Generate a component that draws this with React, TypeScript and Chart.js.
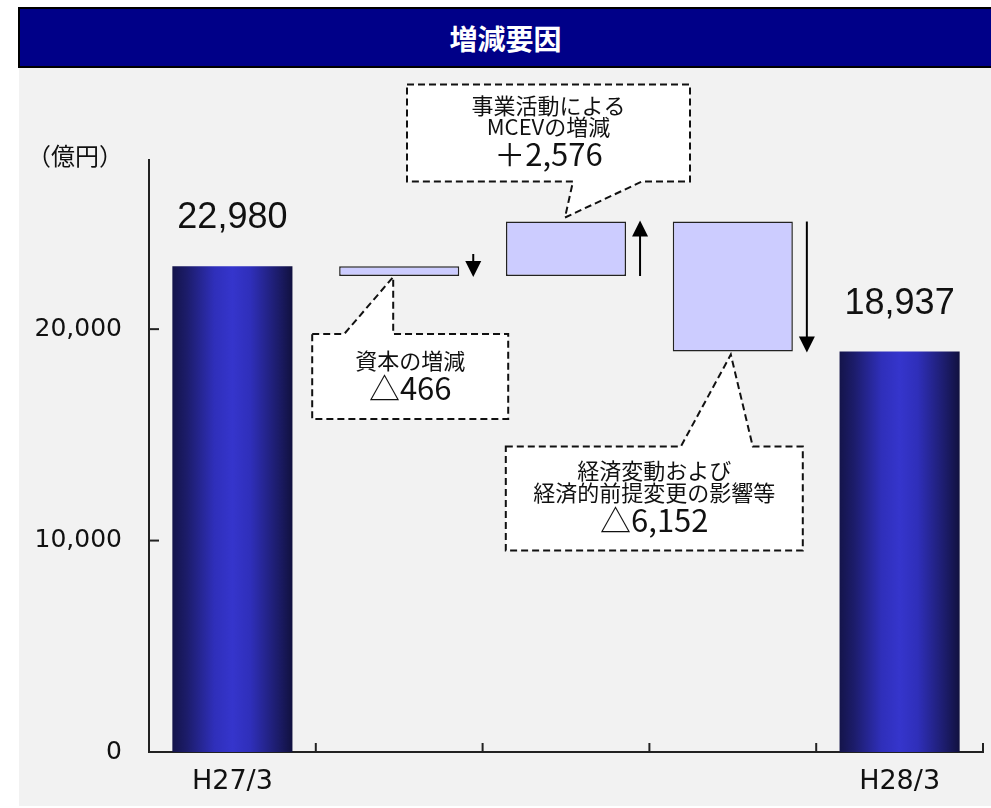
import { useEffect, useRef } from 'react';
import { Chart, registerables } from 'chart.js';

Chart.register(...registerables);

// ---- data ----
const titleText = '増減要因';
const unitLabel = '（億円）';
const categories = ['H27/3', '', '', '', 'H28/3'];
const startValue = 22980;
const endValue = 18937;
const changeValues = [-466, 2576, -6152];
const changeLabels = [
  ['資本の増減'],
  ['事業活動による', 'MCEVの増減'],
  ['経済変動および', '経済的前提変更の影響等'],
];
const yTickValues = [0, 10000, 20000];
const yMax = 28000;

// ---- derived ----
const cumulative: number[] = [startValue];
changeValues.forEach((d, i) => cumulative.push(cumulative[i] + d));
const totals: (number | null)[] = [startValue, null, null, null, endValue];
const ranges: ([number, number] | null)[] = [
  null,
  ...changeValues.map((_, k) => {
    const a = cumulative[k];
    const b = cumulative[k + 1];
    return [Math.min(a, b), Math.max(a, b)] as [number, number];
  }),
  null,
];

// ---- style ----
const BAR_PCT = 0.72;
const AXIS_COLOR = '#222';
const TEXT_COLOR = '#111';
const CJK = '"Noto Sans CJK JP", sans-serif';

type CalloutLayout = {
  anchor: 'top' | 'bottom';
  l: number; r: number; t: number; b: number;
  edge: 'top' | 'bottom';
  tailA: number; tailB: number;
  apexX: number; apexY: number;
  lineY: number[];
};
const calloutLayouts: CalloutLayout[] = [
  { anchor: 'bottom', l: -87, r: 109, t: 58, b: 143, edge: 'top', tailA: -55, tailB: -6, apexX: -6, apexY: 1, lineY: [27, 54] },
  { anchor: 'top', l: -159, r: 124, t: -137, b: -40, edge: 'bottom', tailA: 7, tailB: 76, apexX: -1, apexY: -4, lineY: [21, 42, 70] },
  { anchor: 'bottom', l: -227, r: 70, t: 95, b: 199, edge: 'top', tailA: -52, tailB: 20, apexX: -2, apexY: 3, lineY: [24, 46, 74] },
];

const fmt = (v: number) => v.toLocaleString('en-US');

const overlayPlugin = {
  id: 'overlay',
  afterDatasetsDraw(chart: any) {
    const ctx: CanvasRenderingContext2D = chart.ctx;
    const xs = chart.scales.x;
    const ys = chart.scales.y;
    const catW = xs.width / categories.length;
    const barW = catW * BAR_PCT;
    ctx.save();

    // inward ticks
    ctx.strokeStyle = AXIS_COLOR;
    ctx.lineWidth = 2;
    for (let i = 1; i <= categories.length; i++) {
      const x = xs.left + catW * i;
      ctx.beginPath();
      ctx.moveTo(x, ys.bottom);
      ctx.lineTo(x, ys.bottom - 9);
      ctx.stroke();
    }
    yTickValues.forEach((v) => {
      const y = ys.getPixelForValue(v);
      ctx.beginPath();
      ctx.moveTo(xs.left, y);
      ctx.lineTo(xs.left + 10, y);
      ctx.stroke();
    });

    // total labels
    ctx.fillStyle = TEXT_COLOR;
    ctx.textAlign = 'center';
    ctx.textBaseline = 'middle';
    ctx.font = '36px "Liberation Sans", Arial, sans-serif';
    totals.forEach((v, i) => {
      if (v == null) return;
      ctx.fillText(fmt(v), xs.getPixelForValue(i), ys.getPixelForValue(v) - 48);
    });

    // arrows
    changeValues.forEach((_, k) => {
      const cx = xs.getPixelForValue(k + 1);
      const x = cx + barW / 2 + 14;
      const y0 = ys.getPixelForValue(cumulative[k]);
      const y1 = ys.getPixelForValue(cumulative[k + 1]);
      const dir = y1 > y0 ? 1 : -1;
      const tip = y1 + dir * 1;
      let tail = y0;
      if (Math.abs(tip - tail) < 23) tail = tip - dir * 23;
      ctx.strokeStyle = '#000';
      ctx.fillStyle = '#000';
      ctx.lineWidth = 2;
      ctx.beginPath();
      ctx.moveTo(x, tail);
      ctx.lineTo(x, tip - dir * 8);
      ctx.stroke();
      ctx.beginPath();
      ctx.moveTo(x, tip);
      ctx.lineTo(x - 8, tip - dir * 16);
      ctx.lineTo(x + 8, tip - dir * 16);
      ctx.closePath();
      ctx.fill();
    });

    // callouts
    changeValues.forEach((d, k) => {
      const L = calloutLayouts[k];
      const r = ranges[k + 1]!;
      const cx = xs.getPixelForValue(k + 1);
      const ay = ys.getPixelForValue(L.anchor === 'top' ? r[1] : r[0]);
      const left = cx + L.l, right = cx + L.r, top = ay + L.t, bottom = ay + L.b;
      const apx = cx + L.apexX, apy = ay + L.apexY;
      ctx.beginPath();
      if (L.edge === 'top') {
        ctx.moveTo(left, top);
        ctx.lineTo(cx + L.tailA, top);
        ctx.lineTo(apx, apy);
        ctx.lineTo(cx + L.tailB, top);
        ctx.lineTo(right, top);
        ctx.lineTo(right, bottom);
        ctx.lineTo(left, bottom);
      } else {
        ctx.moveTo(left, top);
        ctx.lineTo(right, top);
        ctx.lineTo(right, bottom);
        ctx.lineTo(cx + L.tailB, bottom);
        ctx.lineTo(apx, apy);
        ctx.lineTo(cx + L.tailA, bottom);
        ctx.lineTo(left, bottom);
      }
      ctx.closePath();
      ctx.fillStyle = '#fff';
      ctx.fill();
      ctx.setLineDash([7, 4]);
      ctx.lineWidth = 2;
      ctx.strokeStyle = '#111';
      ctx.stroke();
      ctx.setLineDash([]);

      const lines = [...changeLabels[k], (d < 0 ? '△' : '＋') + fmt(Math.abs(d))];
      const mx = (left + right) / 2;
      ctx.fillStyle = TEXT_COLOR;
      ctx.textAlign = 'center';
      ctx.textBaseline = 'middle';
      lines.forEach((t, j) => {
        const isValue = j === lines.length - 1;
        ctx.font = (isValue ? '31px ' : '22px ') + CJK;
        ctx.fillText(t, mx, top + L.lineY[j]);
      });
    });

    // unit label
    ctx.fillStyle = TEXT_COLOR;
    ctx.font = '24px ' + CJK;
    ctx.textAlign = 'center';
    ctx.textBaseline = 'middle';
    ctx.fillText(unitLabel, 56, ys.top - 4);

    ctx.restore();
  },
};

function barGradient(context: any) {
  const chart = context.chart;
  const xs = chart.scales?.x;
  if (!chart.chartArea || !xs) return '#3333cc';
  const catW = xs.width / categories.length;
  const w = catW * BAR_PCT;
  const cx = xs.getPixelForValue(context.dataIndex);
  const g = chart.ctx.createLinearGradient(cx - w / 2, 0, cx + w / 2, 0);
  g.addColorStop(0, '#14144a');
  g.addColorStop(0.12, '#1c1c6a');
  g.addColorStop(0.35, '#2f2fba');
  g.addColorStop(0.5, '#3535cc');
  g.addColorStop(0.65, '#2f2fba');
  g.addColorStop(0.88, '#1c1c6a');
  g.addColorStop(1, '#11113f');
  return g;
}

export default function App() {
  const ref = useRef<HTMLCanvasElement>(null);
  useEffect(() => {
    if (!ref.current) return;
    const chart = new Chart(ref.current, {
      type: 'bar',
      data: {
        labels: categories,
        datasets: [
          {
            data: totals as any,
            backgroundColor: barGradient as any,
            borderWidth: 0,
          },
          {
            data: ranges as any,
            backgroundColor: '#ccccff',
            borderColor: '#222',
            borderWidth: 1.5,
            borderSkipped: false,
          },
        ],
      },
      options: {
        animation: false,
        responsive: false,
        devicePixelRatio: 1,
        layout: { padding: { top: 92, right: 8, left: 0, bottom: 0 } },
        datasets: { bar: { categoryPercentage: 1, barPercentage: BAR_PCT, grouped: false } as any },
        plugins: { legend: { display: false }, tooltip: { enabled: false } },
        scales: {
          x: {
            type: 'category',
            offset: true,
            grid: { display: false, drawTicks: false, offset: true },
            border: { color: AXIS_COLOR, width: 2 },
            ticks: {
              font: { family: '"DejaVu Sans", sans-serif', size: 27 },
              color: TEXT_COLOR,
              padding: 14,
              maxRotation: 0,
              autoSkip: false,
            },
            afterFit: (s: any) => { s.height = 54; },
          },
          y: {
            min: 0,
            max: yMax,
            grid: { display: false, drawTicks: false },
            border: { color: AXIS_COLOR, width: 2 },
            ticks: {
              font: { family: '"DejaVu Sans", sans-serif', size: 25 },
              color: TEXT_COLOR,
              padding: 27,
              callback: (v: any) => fmt(Number(v)),
            },
            afterBuildTicks: (s: any) => { s.ticks = yTickValues.map((v) => ({ value: v })); },
            afterFit: (s: any) => { s.width = 130; },
          },
        },
      },
      plugins: [overlayPlugin],
    });
    return () => chart.destroy();
  }, []);

  return (
    <div style={{ position: 'absolute', left: 18, top: 7, width: 973 }}>
      <div
        style={{
          height: 61,
          boxSizing: 'border-box',
          background: '#000088',
          borderTop: '2px solid #000',
          borderBottom: '2px solid #000',
          borderLeft: '2px solid #000',
          display: 'flex',
          alignItems: 'center',
          justifyContent: 'center',
          color: '#fff',
          fontFamily: CJK,
          fontWeight: 'bold',
          fontSize: 28,
        }}
      >
        {titleText}
      </div>
      <div style={{ marginLeft: 1, width: 972, height: 738, background: '#f2f2f2' }}>
        <canvas ref={ref} width={972} height={738} style={{ display: 'block', width: 972, height: 738 }} />
      </div>
    </div>
  );
}
